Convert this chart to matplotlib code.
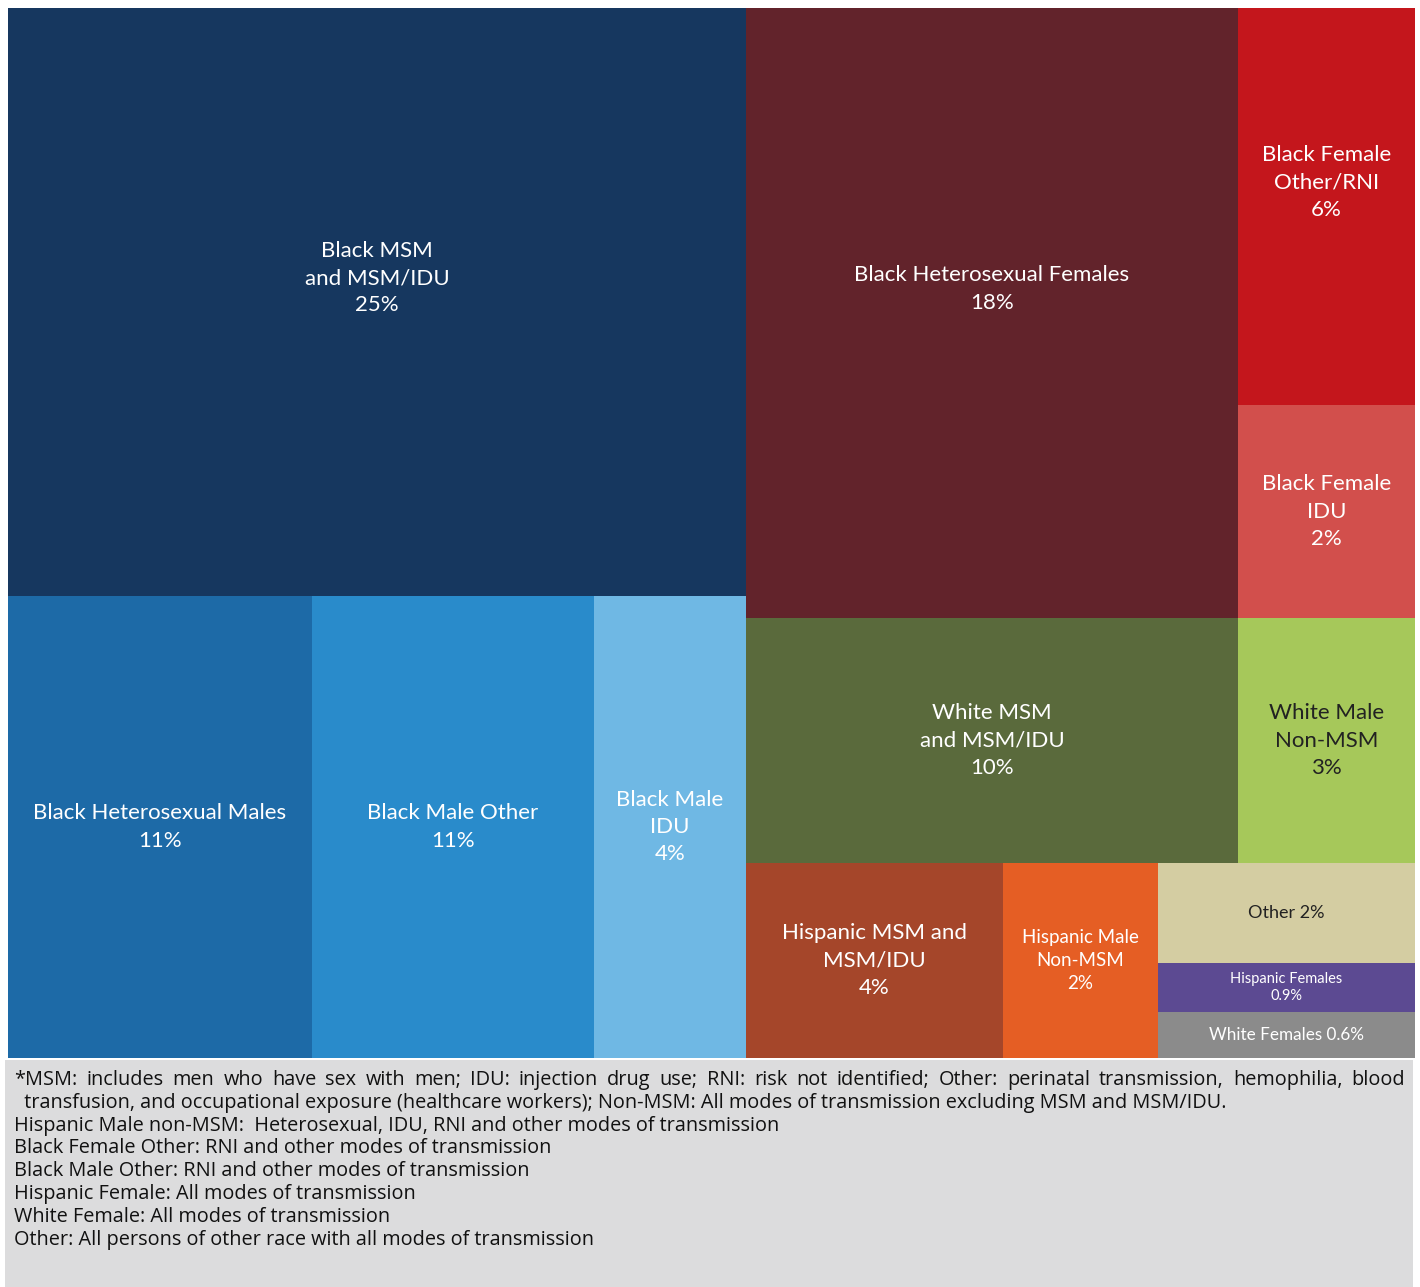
import matplotlib
matplotlib.use("Agg")
import matplotlib.pyplot as plt
from matplotlib.patches import Rectangle

# tile labels, sizes (relative area as drawn in the chart) and colours
labels = ["Black MSM\nand MSM/IDU\n25%",
          "Black Heterosexual Males\n11%",
          "Black Male Other\n11%",
          "Black Male\nIDU\n4%",
          "Black Heterosexual Females\n18%",
          "Black Female\nOther/RNI\n6%",
          "Black Female\nIDU\n2%",
          "White MSM\nand MSM/IDU\n10%",
          "White Male\nNon-MSM\n3%",
          "Hispanic MSM and\nMSM/IDU\n4%",
          "Hispanic Male\nNon-MSM\n2%",
          "Other 2%",
          "Hispanic Females\n0.9%",
          "White Females 0.6%"]
sizes = [433.9, 140.4, 130.3, 70.2, 300.1, 70.3, 37.7,
         120.5, 43.4, 50.1, 30.2, 25.7, 12.6, 11.8]
colors = ["#16375f", "#1d6aa7", "#298bcb", "#6fb8e4", "#62232b", "#c4161c", "#d24f4c",
          "#5a6a3c", "#a6c85a", "#a5462a", "#e55e24", "#d4cda2", "#5c4a92", "#8b8b8b"]
text_colors = ["white"] * 8 + ["#222222", "white", "white", "#222222", "white", "white"]
font_sizes = [16, 16, 16, 16, 16, 16, 16, 16, 16, 16, 13.5, 13, 10.5, 12.3]

# nesting of the tiles: "h" splits left-right, "v" splits top-bottom
tree = ("h", [("v", [0, ("h", [1, 2, 3])]),
              ("v", [("h", [4, ("v", [5, 6])]),
                     ("h", [7, 8]),
                     ("h", [9, 10, ("v", [11, 12, 13])])])])

notes = [
    "*MSM: includes men who have sex with men;  IDU: injection drug use; RNI: risk not identified; Other: perinatal transmission, hemophilia, blood",
    "  transfusion, and occupational exposure (healthcare workers); Non-MSM: All modes of transmission excluding MSM and MSM/IDU.",
    "Hispanic Male non-MSM:  Heterosexual, IDU, RNI and other modes of transmission",
    "Black Female Other: RNI and other modes of transmission",
    "Black Male Other: RNI and other modes of transmission",
    "Hispanic Female: All modes of transmission",
    "White Female: All modes of transmission",
    "Other: All persons of other race with all modes of transmission",
]


def total(node):
    if isinstance(node, int):
        return sizes[node]
    return sum(total(c) for c in node[1])


def layout(node, x, y, w, h, out):
    if isinstance(node, int):
        out[node] = (x, y, w, h)
        return
    kind, kids = node
    t = total(node)
    pos = x if kind == "h" else y
    for c in kids:
        f = total(c) / t
        if kind == "h":
            layout(c, pos, y, w * f, h, out)
            pos += w * f
        else:
            layout(c, x, pos, w, h * f, out)
            pos += h * f


fig = plt.figure(figsize=(14.2, 12.87), dpi=100)
ax = fig.add_axes([0, 0, 1, 1])
ax.set_xlim(0, 1420)
ax.set_ylim(1287, 0)
ax.axis("off")

rects = {}
layout(tree, 8, 8, 1407, 1050, rects)

for i in range(len(labels)):
    x, y, w, h = rects[i]
    ax.add_patch(Rectangle((x, y), w, h, facecolor=colors[i], edgecolor="none"))
    cy = y + h / 2
    if y <= 8.5:  # labels of the top row sit a little above centre
        cy -= 24
    ls = 1.45 if font_sizes[i] >= 13 else 1.3
    ax.text(x + w / 2, cy, labels[i], ha="center", va="center",
            color=text_colors[i], fontsize=font_sizes[i], family="Lato",
            linespacing=ls)

# footnote panel
ax.add_patch(Rectangle((5, 1060), 1408, 227, facecolor="#dcdcdd", edgecolor="none"))
fs_note = 14.3
renderer = fig.canvas.get_renderer()
for k, line in enumerate(notes):
    yk = 1080 + k * 22.8
    if k == 0:
        # first line is justified to the right edge of the panel
        words = line.split(" ")
        words = [w for w in words if w]
        arts = [ax.text(0, yk, w, ha="left", va="center", fontsize=fs_note,
                        family="Open Sans", color="#111111") for w in words]
        widths = [a.get_window_extent(renderer).width for a in arts]
        gap = (1405 - 14 - sum(widths)) / (len(words) - 1)
        xpos = 14
        for a, wd in zip(arts, widths):
            a.set_x(xpos)
            xpos += wd + gap
    else:
        ax.text(14, yk, line, ha="left", va="center", fontsize=fs_note,
                family="Open Sans", color="#111111")

fig.savefig("out.png", dpi=100)
